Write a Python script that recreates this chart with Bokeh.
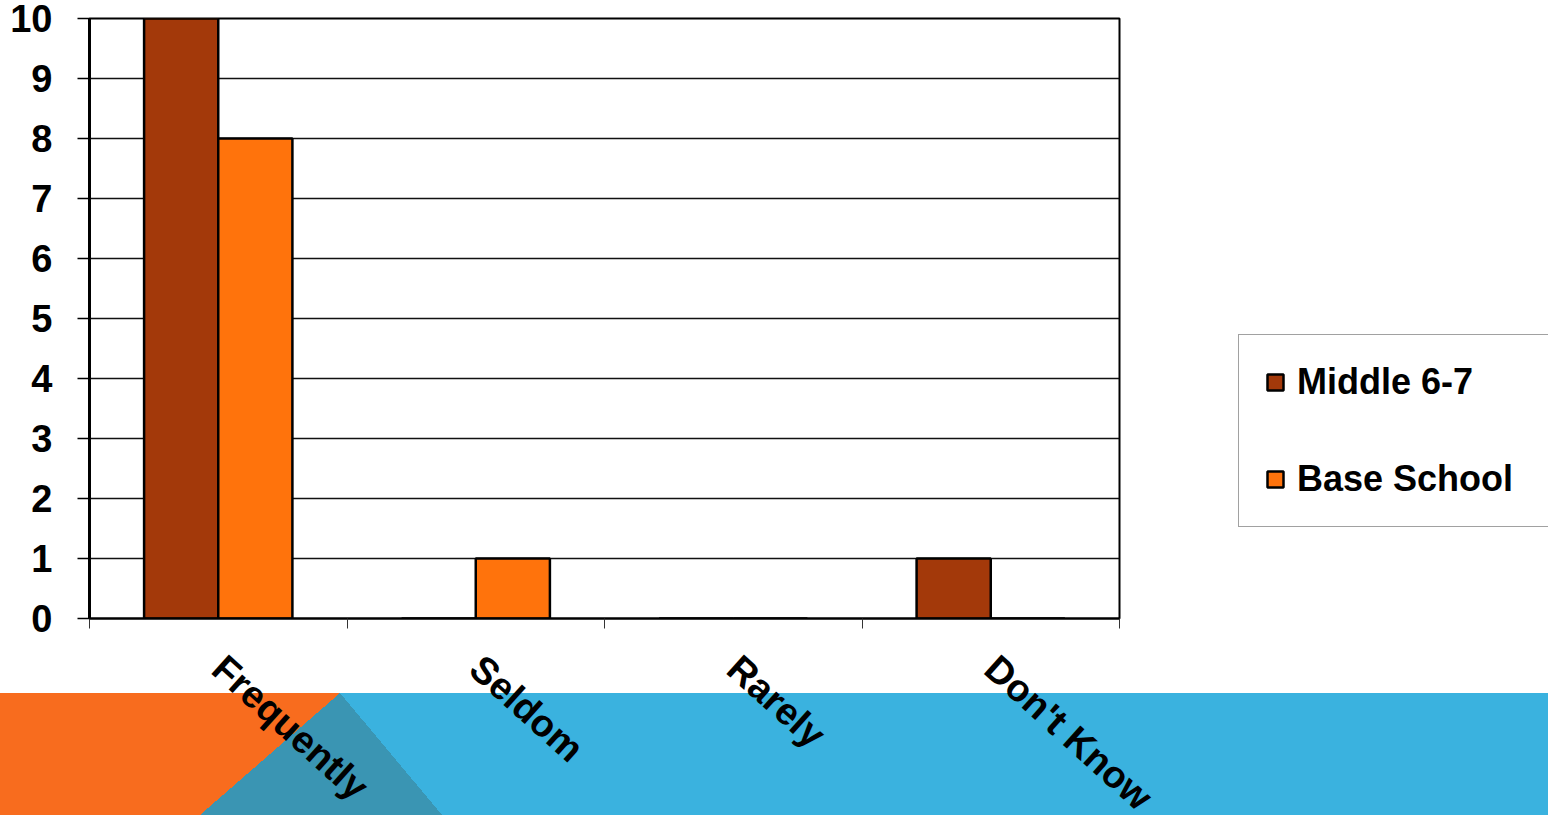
import math
from bokeh.plotting import figure
from bokeh.models import (Range1d, LinearAxis, FixedTicker, Legend, LegendItem,
                          ColumnDataSource)
from bokeh.transform import dodge
from bokeh.embed import file_html
from bokeh.resources import INLINE

# ---- data ----
categories = ["Frequently", "Seldom", "Rarely", "Don't Know"]
middle_6_7 = [10, 0, 0, 1]
base_school = [8, 1, 0, 0]
series_names = ["Middle 6-7", "Base School"]
y_ticks = [0, 1, 2, 3, 4, 5, 6, 7, 8, 9, 10]

# ---- styles ----
FONT = "Liberation Sans"
C_MID = "#A3390A"
C_BASE = "#FF730C"
C_ORANGE = "#F86C1E"
C_BLUE = "#3AB2DF"
C_TEAL = "#3A95B3"
FS = "38px"
FS_LEG = "36px"

n = len(categories)
centers = [i + 0.5 for i in range(n)]
bounds = list(range(n + 1))

W, H = 1548, 815
BAND_TOP = 693
BAND_H = H - BAND_TOP


def half_plane(p1, p2, color, w, h):
    """CSS gradient layer: `color` on the left of line p1->p2 (within a w x h box)."""
    dx, dy = p2[0] - p1[0], p2[1] - p1[1]
    nx, ny = -dy, dx
    norm = math.hypot(nx, ny)
    nx, ny = nx / norm, ny / norm
    if nx < 0:
        nx, ny = -nx, -ny
    ang = math.degrees(math.atan2(nx, -ny))
    L = abs(w * nx) + abs(h * ny)
    t = (p1[0] - w / 2) * nx + (p1[1] - h / 2) * ny + L / 2
    return f"linear-gradient({ang:.3f}deg, {color} {t:.2f}px, transparent {t:.2f}px)"


layers = [
    half_plane((340, 0), (200, BAND_H), C_ORANGE, W, BAND_H),
    half_plane((340, 0), (442, BAND_H), C_TEAL, W, BAND_H),
    f"linear-gradient({C_BLUE}, {C_BLUE})",
]
bg_styles = {
    "background-image": ", ".join(layers),
    "background-size": ", ".join([f"{W}px {BAND_H}px"] * len(layers)),
    "background-position": ", ".join([f"0px {BAND_TOP}px"] * len(layers)),
    "background-repeat": "no-repeat",
    "height": f"{H}px",
    "overflow": "hidden",
}

p = figure(frame_width=1030, frame_height=600, output_backend="svg", toolbar_location=None,
           x_range=Range1d(0, n), y_range=Range1d(0, 10),
           x_axis_location=None, y_axis_location=None,
           min_border_left=89, min_border_right=429,
           min_border_top=18, min_border_bottom=197,
           outline_line_color="black", outline_line_width=2,
           background_fill_color="white", border_fill_color=None)
p.styles = bg_styles

src = ColumnDataSource(dict(xc=centers, cat=categories, mid=middle_6_7, base=base_school))
r1 = p.vbar(x=dodge("xc", -0.144), top="mid", width=0.288,
            source=src, fill_color=C_MID, line_color="black", line_width=2.5)
r2 = p.vbar(x=dodge("xc", 0.144), top="base", width=0.288,
            source=src, fill_color=C_BASE, line_color="black", line_width=2.5)

# y axis
yax = LinearAxis(ticker=FixedTicker(ticks=y_ticks))
yax.axis_line_color = "black"
yax.axis_line_width = 3
yax.major_tick_out = 12
yax.major_tick_in = 0
yax.major_tick_line_color = "black"
yax.major_tick_line_width = 1.5
yax.minor_tick_line_color = None
yax.major_label_standoff = 25
yax.major_label_text_font = FONT
yax.major_label_text_font_style = "bold"
yax.major_label_text_font_size = FS
yax.major_label_text_color = "black"
p.add_layout(yax, "left")

# grid
p.ygrid.ticker = FixedTicker(ticks=y_ticks)
p.ygrid.grid_line_color = "#111111"
p.ygrid.grid_line_width = 1.5
p.xgrid.grid_line_color = None

# x axis: labels at category centres, tick marks at category boundaries
xax = LinearAxis(ticker=FixedTicker(ticks=centers, minor_ticks=bounds))
xax.major_label_overrides = {c: name for c, name in zip(centers, categories)}
xax.axis_line_color = "black"
xax.axis_line_width = 2
xax.major_tick_line_color = None
xax.major_tick_out = 0
xax.major_tick_in = 0
xax.minor_tick_line_color = "#333333"
xax.minor_tick_line_width = 1
xax.minor_tick_out = 10
xax.minor_tick_in = 0
xax.major_label_standoff = 34
xax.major_label_orientation = -math.radians(42)
xax.major_label_text_font = FONT
xax.major_label_text_font_style = "bold"
xax.major_label_text_font_size = FS
xax.major_label_text_color = "black"
p.add_layout(xax, "below")

# legend (right panel, positioned relative to the panel's bottom-left)
legend = Legend(items=[LegendItem(label=series_names[0], renderers=[r1]),
                       LegendItem(label=series_names[1], renderers=[r2])],
                location=(1238 - 1119, 618 - 527),
                padding=26, spacing=55, margin=0,
                glyph_width=20, glyph_height=20, label_standoff=12,
                label_height=40, label_width=290,
                label_text_font=FONT, label_text_font_style="bold",
                label_text_font_size=FS_LEG, label_text_color="black",
                border_line_color="#444444", border_line_width=1,
                background_fill_color="white", background_fill_alpha=1)
p.add_layout(legend, "right")

open("out.html", "w").write(file_html(p, INLINE))
